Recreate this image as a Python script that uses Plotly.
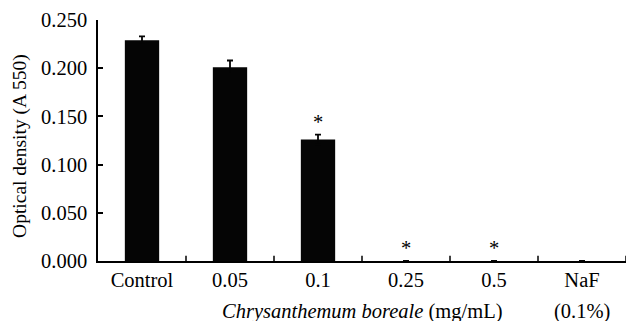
import plotly.graph_objects as go

categories = ["Control", "0.05", "0.1", "0.25", "0.5", "NaF"]
values = [0.229, 0.201, 0.126, 0.0, 0.0, 0.0]
errors = [0.004, 0.007, 0.005, 0.0, 0.0, 0.0]
significant = [False, False, True, True, True, False]
y_ticks = [0.0, 0.05, 0.1, 0.15, 0.2, 0.25]

FONT = "Liberation Serif"
FS = 20.5

fig = go.Figure()
fig.add_trace(go.Bar(
    x=list(range(len(categories))), y=values,
    marker=dict(color="#050505", line=dict(color="#050505", width=0)),
    error_y=dict(type="data", array=errors, visible=True, color="#050505", thickness=1.8, width=3),
    width=0.39,
    showlegend=False,
))

for i, (v, e, s) in enumerate(zip(values, errors, significant)):
    if s:
        fig.add_annotation(x=i, xref="x", y=v + e, text="*", showarrow=False, yanchor="bottom",
                           yshift=0, font=dict(family=FONT, size=FS, color="black"))

fig.add_annotation(x=2.5, xref="x", y=-0.155, yref="paper", yanchor="top",
                   text="<i>Chrysanthemum boreale</i> (mg/mL)", showarrow=False,
                   font=dict(family=FONT, size=FS, color="black"))
fig.add_annotation(x=5, xref="x", y=-0.155, yref="paper", yanchor="top",
                   text="(0.1%)", showarrow=False,
                   font=dict(family=FONT, size=FS, color="black"))
# y-axis title
fig.add_annotation(x=-0.148, xref="paper", y=0.477, yref="paper", xanchor="center", yanchor="middle",
                   text="Optical density (A 550)", textangle=-90, showarrow=False,
                   font=dict(family=FONT, size=19.5, color="black"))

fig.update_layout(
    width=627, height=321,
    margin=dict(l=98, r=1, t=20, b=60),
    plot_bgcolor="white", paper_bgcolor="white",
    font=dict(family=FONT, size=FS, color="black"),
    xaxis=dict(
        range=[-0.5, 5.5], tickvals=list(range(len(categories))), ticktext=categories,
        showline=True, linecolor="black", linewidth=1.5,
        ticks="", showgrid=False, zeroline=False, tickfont=dict(family=FONT, size=FS),
        ticklabelstandoff=0,
    ),
    yaxis=dict(
        range=[0, 0.25], tickvals=y_ticks, tickformat=".3f", showline=True, linecolor="black",
        linewidth=1.5, ticks="inside", ticklen=5, tickwidth=1.5, tickcolor="black",
        showgrid=False, zeroline=False, tickfont=dict(family=FONT, size=FS),
        ticklabelstandoff=5,
    ),
)

# category boundary ticks on the x axis (inside, pointing up)
for b in [0.5, 1.5, 2.5, 3.5, 4.5, 5.5]:
    fig.add_shape(type="line", xref="x", yref="y domain", x0=b, x1=b, y0=0, y1=0.022,
                  line=dict(color="black", width=1.5))

fig.write_html("out.html", config={"displayModeBar": False},
               post_script="document.body.style.margin='0';")
